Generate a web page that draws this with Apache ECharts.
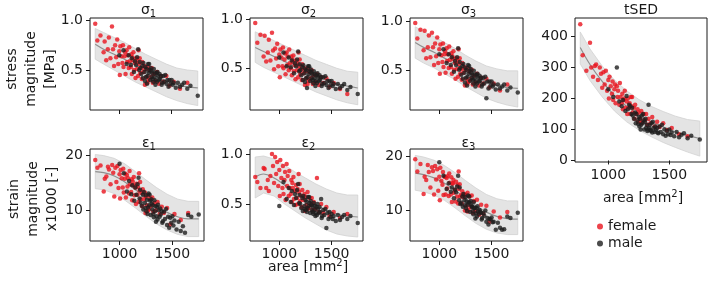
<!DOCTYPE html>
<html>
<head>
<meta charset="utf-8">
<script src="https://cdn.jsdelivr.net/npm/echarts@6/dist/echarts.min.js"></script>
<style>
  html, body { margin: 0; padding: 0; background: #fff; }
  #chart { width: 709px; height: 285px; }
</style>
</head>
<body>
<div id="chart"></div>
<script>
// cross-sectional area of each subject [mm2]
const femaleArea = [770,790,820,850,860,875,890,900,915,930,940,950,960,970,980,990,1000,1005,1010,1020,1030,1035,1040,1050,1055,1060,1070,1075,1080,1090,1095,1100,1110,1115,1120,1130,1135,1140,1150,1155,1160,1170,1175,1180,1190,1195,1200,1210,1215,1220,1230,1240,1245,1250,1260,1270,1280,1290,1300,1310,1320,1330,1345,1360,1380,1400,1420,1450,1480,1520,1580,1650,1270,1185,1125];
const maleArea = [1000,1040,1070,1090,1110,1120,1140,1150,1160,1170,1180,1190,1195,1200,1210,1220,1225,1230,1240,1250,1255,1260,1270,1275,1280,1290,1295,1300,1310,1315,1320,1330,1335,1340,1350,1355,1360,1370,1380,1385,1390,1400,1410,1420,1430,1440,1450,1460,1470,1480,1490,1500,1510,1520,1540,1560,1580,1600,1620,1650,1680,1750,1245,1285,1325,1365,1405,1265,1305,1345];

// stress [MPa]
const femaleSigma1 = [.97,.80,.85,.68,.79,.60,.71,.83,.62,.94,.71,.54,.75,.63,.81,.56,.69,.45,.74,.64,.57,.75,.53,.64,.68,.46,.70,.58,.65,.52,.73,.59,.53,.66,.46,.60,.68,.50,.57,.42,.62,.51,.59,.44,.56,.62,.47,.52,.41,.58,.48,.54,.35,.51,.43,.53,.40,.50,.43,.52,.37,.46,.39,.48,.36,.44,.38,.44,.34,.38,.31,.37,.37,.70,.63];
const maleSigma1 = [.65,.70,.56,.65,.55,.62,.48,.59,.55,.63,.71,.50,.58,.52,.46,.54,.42,.57,.48,.53,.43,.51,.44,.56,.47,.50,.40,.52,.43,.47,.41,.51,.43,.47,.40,.47,.38,.44,.40,.46,.41,.44,.37,.44,.38,.45,.36,.40,.33,.40,.36,.40,.35,.37,.32,.37,.33,.35,.37,.31,.34,.24,.39,.56,.38,.48,.35,.36,.49,.35];
const femaleSigma2 = [.96,.76,.84,.62,.83,.57,.66,.79,.58,.86,.68,.49,.70,.60,.75,.52,.64,.41,.69,.61,.52,.71,.50,.59,.65,.44,.66,.53,.62,.48,.69,.55,.50,.62,.43,.56,.63,.47,.53,.39,.58,.48,.55,.41,.52,.59,.44,.49,.38,.54,.45,.50,.33,.47,.40,.50,.37,.46,.40,.48,.34,.43,.36,.44,.33,.41,.35,.40,.31,.35,.29,.24,.34,.66,.59];
const maleSigma2 = [.61,.66,.52,.61,.51,.58,.45,.55,.52,.59,.67,.47,.54,.48,.43,.51,.38,.53,.45,.49,.40,.48,.41,.52,.44,.47,.37,.49,.40,.44,.38,.47,.40,.44,.37,.43,.35,.41,.37,.43,.38,.41,.34,.41,.35,.42,.33,.37,.30,.37,.33,.37,.32,.34,.29,.34,.30,.32,.34,.28,.31,.24,.36,.52,.35,.45,.32,.30,.46,.32];
const femaleSigma3 = [.98,.82,.91,.70,.90,.62,.73,.85,.63,.88,.73,.55,.77,.64,.83,.57,.71,.46,.76,.65,.58,.77,.53,.66,.69,.47,.72,.59,.66,.52,.74,.60,.53,.67,.46,.61,.69,.50,.57,.41,.62,.51,.59,.43,.56,.62,.46,.51,.40,.57,.47,.53,.34,.50,.41,.52,.38,.48,.41,.50,.35,.44,.37,.46,.34,.42,.36,.41,.32,.36,.29,.35,.36,.71,.64];
const maleSigma3 = [.66,.71,.57,.66,.55,.63,.48,.59,.55,.63,.72,.50,.58,.52,.45,.54,.41,.56,.47,.52,.42,.50,.43,.55,.46,.49,.39,.51,.42,.45,.40,.49,.41,.45,.38,.45,.36,.42,.38,.44,.39,.42,.35,.42,.36,.43,.21,.38,.31,.38,.34,.38,.33,.35,.30,.35,.31,.33,.35,.29,.32,.27,.37,.54,.36,.46,.33,.34,.47,.33];
const femaleTsed = [440,340,290,380,300,270,305,310,260,300,280,235,285,245,290,225,260,200,270,240,215,255,195,230,245,185,240,205,225,180,250,205,185,215,165,200,225,170,190,150,200,170,185,150,175,205,155,170,135,180,150,165,125,155,135,160,125,150,130,150,115,135,120,140,110,125,108,120,98,105,85,78,120,205,195];
const maleTsed = [230,205,300,190,175,195,160,208,165,180,175,150,170,145,135,155,120,150,130,140,110,135,115,145,120,130,100,125,105,115,95,180,105,115,95,120,90,105,92,110,98,105,88,110,92,115,85,100,80,95,85,100,82,90,78,92,75,83,88,72,80,68,118,150,100,125,90,100,135,98];

// strain x1000 [-]
const femaleStrain1 = [19.2,17.8,18.2,13.5,15.8,16.2,18.0,17.5,14.8,18.3,16.9,12.6,17.8,15.2,18.1,14.1,16.6,12.2,17.4,15.9,14.2,17.6,13.3,15.8,16.7,12.4,16.5,14.4,15.9,13.1,17.2,14.8,13.4,15.7,11.9,14.6,16.1,12.8,14.2,11.2,14.9,12.9,14.3,11.6,13.6,15.2,12.1,13.2,10.8,13.9,12.1,13.3,9.6,12.6,11.0,12.8,10.3,12.2,10.9,12.4,9.8,11.4,10.1,11.6,9.4,10.7,9.6,10.5,7.5,9.4,8.3,9.6,10.0,16.8,15.3];
const maleStrain1 = [18.5,16.8,13.5,15.4,13.0,14.6,11.8,14.2,12.9,14.8,16.0,12.2,13.8,11.5,10.9,12.9,10.2,13.4,11.4,12.8,9.9,12.0,10.6,13.1,11.0,11.8,9.2,12.1,10.2,11.0,9.4,11.9,9.9,10.8,9.0,10.7,8.4,10.1,8.9,10.4,9.3,9.9,8.1,9.8,8.5,10.3,7.4,8.9,6.9,8.7,7.8,9.0,7.3,8.2,6.6,8.0,6.3,7.2,6.0,9.2,8.9,9.3,10.5,12.9,8.8,11.1,7.8,9.4,11.3,8.0];
const femaleStrain2 = [.77,.72,.66,.86,.85,.66,.74,.63,.78,1.00,.88,.71,.97,.80,.92,.68,.84,.58,.94,.76,.66,.88,.60,.74,.82,.54,.90,.68,.78,.58,.83,.66,.60,.74,.52,.66,.77,.55,.63,.49,.69,.56,.65,.50,.62,.70,.53,.58,.47,.64,.54,.60,.43,.57,.49,.62,.46,.56,.49,.56,.44,.52,.45,.76,.42,.50,.41,.47,.38,.42,.36,.40,.45,.80,.71];
const maleStrain2 = [.48,.72,.55,.66,.52,.63,.49,.60,.56,.64,.70,.51,.59,.50,.46,.56,.43,.58,.48,.54,.44,.52,.46,.57,.48,.51,.41,.53,.44,.48,.42,.51,.44,.48,.41,.47,.39,.45,.41,.47,.42,.55,.38,.44,.39,.45,.26,.41,.35,.42,.37,.40,.35,.38,.33,.39,.34,.37,.39,.35,.38,.31,.45,.57,.40,.50,.36,.42,.49,.38];
const femaleStrain3 = [19.5,17.2,18.6,13.0,16.2,15.6,18.4,17.1,14.2,18.0,17.3,12.9,18.2,15.7,17.6,13.6,16.2,11.8,17.9,15.4,14.7,17.1,12.8,16.2,16.2,12.9,16.0,14.0,16.3,12.6,16.8,15.1,12.9,16.1,11.5,15.0,15.6,13.2,13.8,11.6,15.3,12.5,14.7,11.2,13.9,14.8,12.5,12.8,11.2,13.5,12.4,12.9,9.9,12.9,10.7,13.2,10.0,12.5,10.6,12.7,9.5,11.7,9.8,11.9,9.1,11.0,9.3,10.8,7.8,9.7,8.6,9.6,9.7,17.2,14.9];
const maleStrain3 = [18.9,16.4,13.9,15.0,13.4,14.2,12.2,13.8,13.3,14.4,16.4,11.8,14.2,11.1,11.3,12.5,10.6,13.0,11.8,12.4,10.3,11.6,11.0,12.7,11.4,11.4,9.6,11.7,10.6,10.6,9.8,11.5,10.3,10.4,9.4,10.3,8.8,9.7,9.3,10.0,9.7,9.5,8.5,9.4,8.9,9.9,7.8,8.5,7.3,8.3,8.2,8.6,7.7,7.8,6.3,7.6,6.7,6.3,6.4,8.8,8.5,9.5,10.9,12.5,9.2,10.7,8.2,9.8,10.9,8.4];

// fitted trend and its band, sampled along area
const bandArea = [770, 850, 950, 1050, 1150, 1250, 1350, 1450, 1550, 1650, 1750];
const sigma1Fit = [0.76, 0.71, 0.66, 0.61, 0.55, 0.49, 0.44, 0.39, 0.35, 0.33, 0.32];
const sigma1Upper = [0.92, 0.88, 0.83, 0.78, 0.72, 0.66, 0.61, 0.56, 0.52, 0.50, 0.49];
const sigma1Lower = [0.61, 0.56, 0.50, 0.44, 0.38, 0.33, 0.28, 0.23, 0.19, 0.16, 0.14];
const sigma2Fit = [0.71, 0.67, 0.62, 0.57, 0.52, 0.47, 0.42, 0.38, 0.34, 0.32, 0.30];
const sigma2Upper = [0.87, 0.83, 0.78, 0.73, 0.68, 0.63, 0.58, 0.54, 0.50, 0.47, 0.46];
const sigma2Lower = [0.56, 0.51, 0.46, 0.41, 0.36, 0.31, 0.26, 0.22, 0.18, 0.15, 0.13];
const sigma3Fit = [0.78, 0.73, 0.68, 0.62, 0.56, 0.49, 0.43, 0.38, 0.34, 0.32, 0.31];
const sigma3Upper = [0.94, 0.89, 0.84, 0.78, 0.72, 0.65, 0.59, 0.54, 0.51, 0.49, 0.49];
const sigma3Lower = [0.62, 0.57, 0.52, 0.46, 0.40, 0.33, 0.27, 0.21, 0.17, 0.14, 0.12];
const tsedFit = [365, 310, 255, 210, 175, 148, 126, 108, 92, 80, 71];
const tsedUpper = [415, 360, 305, 260, 225, 197, 175, 158, 143, 132, 127];
const tsedLower = [312, 258, 205, 160, 125, 98, 77, 58, 42, 27, 14];
const strain1Fit = [17.1, 16.9, 16.3, 15.2, 13.8, 12.3, 10.9, 9.7, 8.9, 8.5, 8.5];
const strain1Upper = [20.2, 20.0, 19.5, 18.5, 17.1, 15.6, 14.2, 13.0, 12.1, 11.7, 11.7];
const strain1Lower = [14.0, 13.8, 13.1, 11.9, 10.5, 9.0, 7.6, 6.5, 5.7, 5.3, 5.3];
const strain2Fit = [0.77, 0.80, 0.76, 0.69, 0.62, 0.55, 0.49, 0.44, 0.40, 0.38, 0.37];
const strain2Upper = [0.97, 0.98, 0.95, 0.89, 0.82, 0.76, 0.70, 0.65, 0.61, 0.59, 0.59];
const strain2Lower = [0.56, 0.61, 0.58, 0.50, 0.43, 0.36, 0.30, 0.24, 0.20, 0.18, 0.17];
const strain3Fit = [16.9, 16.6, 16.0, 15.0, 13.7, 12.2, 10.8, 9.6, 8.8, 8.4, 8.3];
const strain3Upper = [20.2, 19.9, 19.3, 18.3, 17.0, 15.5, 14.1, 12.9, 12.1, 11.7, 11.7];
const strain3Lower = [13.7, 13.4, 12.8, 11.8, 10.4, 8.9, 7.5, 6.4, 5.7, 5.4, 5.4];

// tick labels
const areaTicks = [1000, 1500];
const stressTicks = [0.5, 1.0];
const tsedTicks = [0, 100, 200, 300, 400];
const strainTicks = [10, 20];
const strain2Ticks = [0.5, 1.0];

const FONT = "DejaVu Sans";
const INK = "#1a1a1a";
const RED = "#e8141e";
const BLACK = "#1e1e1e";

const panels = [
	{ title: ["σ", "1"], box: [90, 18, 113, 92], x: [720, 1800], y: [0.095, 1.027], ticks: stressTicks, dec: 1, xLabels: false, female: femaleSigma1, male: maleSigma1, fit: sigma1Fit, upper: sigma1Upper, lower: sigma1Lower },
	{ title: ["σ", "2"], box: [250, 18, 113, 92], x: [720, 1800], y: [0.077, 1.01], ticks: stressTicks, dec: 1, xLabels: false, female: femaleSigma2, male: maleSigma2, fit: sigma2Fit, upper: sigma2Upper, lower: sigma2Lower },
	{ title: ["σ", "3"], box: [410, 18, 113, 92], x: [720, 1800], y: [0.09, 1.03], ticks: stressTicks, dec: 1, xLabels: false, female: femaleSigma3, male: maleSigma3, fit: sigma3Fit, upper: sigma3Upper, lower: sigma3Lower },
	{ title: ["tSED", ""], box: [575, 18, 132, 144], x: [727, 1809], y: [-5, 460], ticks: tsedTicks, dec: 0, xLabels: true, female: femaleTsed, male: maleTsed, fit: tsedFit, upper: tsedUpper, lower: tsedLower },
	{ title: ["ε", "1"], box: [90, 149, 114, 92], x: [720, 1800], y: [4.5, 21.2], ticks: strainTicks, dec: 0, xLabels: true, female: femaleStrain1, male: maleStrain1, fit: strain1Fit, upper: strain1Upper, lower: strain1Lower },
	{ title: ["ε", "2"], box: [250, 149, 113, 92], x: [720, 1800], y: [0.13, 1.05], ticks: strain2Ticks, dec: 1, xLabels: true, female: femaleStrain2, male: maleStrain2, fit: strain2Fit, upper: strain2Upper, lower: strain2Lower },
	{ title: ["ε", "3"], box: [410, 149, 113, 92], x: [720, 1800], y: [4.2, 21.4], ticks: strainTicks, dec: 0, xLabels: true, female: femaleStrain3, male: maleStrain3, fit: strain3Fit, upper: strain3Upper, lower: strain3Lower }
];

const zip = (xs, ys) => xs.map((x, i) => [x, ys[i]]);

const grid = [];
const xAxis = [];
const yAxis = [];
const series = [];
const graphic = [];

panels.forEach((p, i) => {
	const [left, top, width, height] = p.box;
	grid.push({ left, top, width, height, show: true, borderColor: INK, borderWidth: 1, backgroundColor: "transparent" });

	xAxis.push({
		type: "value", gridIndex: i, min: p.x[0], max: p.x[1],
		axisLine: { show: false },
		splitLine: { show: false },
		axisTick: { show: true, customValues: areaTicks, length: 4, lineStyle: { color: INK } },
		axisLabel: { show: p.xLabels, customValues: areaTicks, margin: 6, fontSize: 14, color: INK, fontFamily: FONT, formatter: v => String(v) }
	});
	yAxis.push({
		type: "value", gridIndex: i, min: p.y[0], max: p.y[1],
		axisLine: { show: false },
		splitLine: { show: false },
		axisTick: { show: true, customValues: p.ticks, length: 4, lineStyle: { color: INK } },
		axisLabel: { customValues: p.ticks, margin: 7, fontSize: 14, color: INK, fontFamily: FONT, formatter: v => v.toFixed(p.dec) }
	});

	// confidence band
	series.push({
		type: "custom", xAxisIndex: i, yAxisIndex: i, silent: true, z: 1,
		data: [[bandArea[0], p.upper[0]]],
		renderItem: (params, api) => {
			const pts = [];
			bandArea.forEach((a, k) => pts.push(api.coord([a, p.upper[k]])));
			for (let k = bandArea.length - 1; k >= 0; k--) pts.push(api.coord([bandArea[k], p.lower[k]]));
			return { type: "polygon", shape: { points: pts, smooth: 0 }, style: { fill: "#e4e4e4", stroke: "#d2d2d2", lineWidth: 0.8 } };
		}
	});
	// trend
	series.push({
		type: "line", xAxisIndex: i, yAxisIndex: i, silent: true, z: 2,
		data: zip(bandArea, p.fit), smooth: 0.4, showSymbol: false,
		lineStyle: { color: "#8f8f8f", width: 1.2 }
	});
	series.push({
		name: "female", type: "scatter", xAxisIndex: i, yAxisIndex: i, z: 3,
		data: zip(femaleArea, p.female), symbolSize: 4.5,
		itemStyle: { color: RED }
	});
	series.push({
		name: "male", type: "scatter", xAxisIndex: i, yAxisIndex: i, z: 3,
		data: zip(maleArea, p.male), symbolSize: 4.5,
		itemStyle: { color: BLACK }
	});

	// panel title
	const cx = left + width / 2;
	graphic.push({
		type: "text", x: cx + (p.title[1] ? 2 : 0), y: top - (i < 4 ? 8 : 6),
		style: {
			text: p.title[1] ? `{b|${p.title[0]}}{s|${p.title[1]}}` : `{b|${p.title[0]}}`,
			rich: {
				b: { fontSize: 14, lineHeight: 18, fontFamily: FONT, fill: INK },
				s: { fontSize: 10, lineHeight: 10, fontFamily: FONT, fill: INK, verticalAlign: "bottom" }
			},
			align: "center", verticalAlign: "middle"
		}
	});
});

// axis titles
const sideLabel = (x, y, text) => ({
	type: "text", x, y, rotation: Math.PI / 2,
	style: { text, font: `14px '${FONT}'`, fill: INK, align: "center", verticalAlign: "middle", lineHeight: 19 }
});
const areaLabel = (x, y) => ({
	type: "text", x, y,
	style: {
		text: "{b|area [mm}{p|2}{b|]}",
		rich: {
			b: { fontSize: 14, lineHeight: 18, fontFamily: FONT, fill: INK },
			p: { fontSize: 10, lineHeight: 10, fontFamily: FONT, fill: INK, verticalAlign: "top" }
		},
		align: "center", verticalAlign: "middle"
	}
});
graphic.push(sideLabel(31, 69, "stress\nmagnitude\n[MPa]"));
graphic.push(sideLabel(33, 199, "strain\nmagnitude\nx1000 [-]"));
graphic.push(areaLabel(308, 267));
graphic.push(areaLabel(643, 198));

const option = {
	animation: false,
	textStyle: { fontFamily: FONT },
	grid, xAxis, yAxis, series, graphic,
	legend: {
		data: ["female", "male"], orient: "vertical", left: 597, top: 219,
		padding: 0, itemGap: 2, itemWidth: 6, itemHeight: 6, icon: "circle",
		textStyle: { fontSize: 14, lineHeight: 15, color: INK, fontFamily: FONT }
	}
};

const chart = echarts.init(document.getElementById("chart"));
chart.setOption(option);
</script>
</body>
</html>
